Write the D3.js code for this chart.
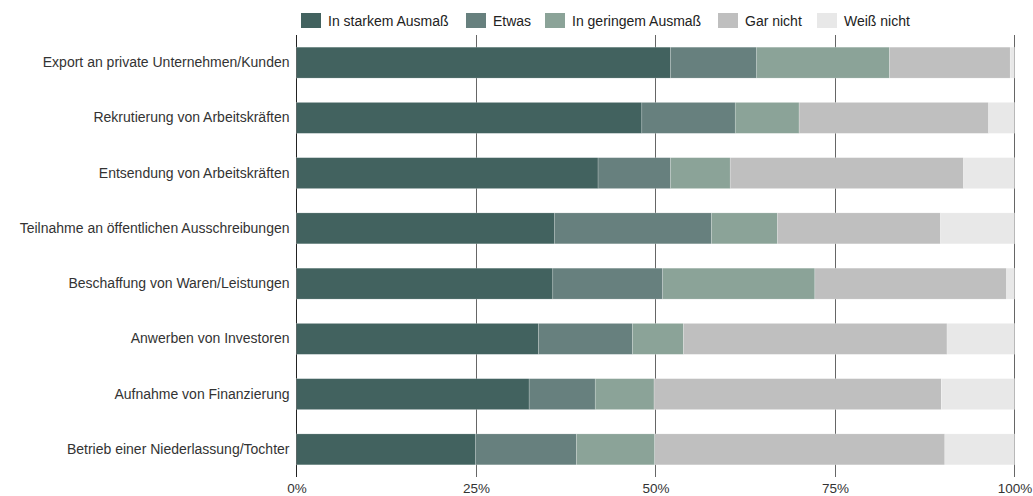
<!DOCTYPE html>
<html>
<head>
<meta charset="utf-8">
<script src="https://cdn.jsdelivr.net/npm/d3@7"></script>
<style>
  body { margin: 0; background: #fff; }
  text { font-family: "Liberation Sans", Arial, sans-serif; }
</style>
</head>
<body>
<div id="canvas"></div>
<script>
const categories = [
    "Export an private Unternehmen/Kunden",
    "Rekrutierung von Arbeitskräften",
    "Entsendung von Arbeitskräften",
    "Teilnahme an öffentlichen Ausschreibungen",
    "Beschaffung von Waren/Leistungen",
    "Anwerben von Investoren",
    "Aufnahme von Finanzierung",
    "Betrieb einer Niederlassung/Tochter"
];
const seriesNames = ["In starkem Ausmaß", "Etwas", "In geringem Ausmaß", "Gar nicht", "Weiß nicht"];
const starkem  = [52.1, 48.1, 42.0, 35.9, 35.7, 33.7, 32.4, 24.9];
const etwas    = [12.0, 13.0, 10.1, 21.9, 15.3, 13.1,  9.2, 14.1];
const geringem = [18.5,  8.9,  8.3,  9.2, 21.2,  7.1,  8.2, 10.9];
const garNicht = [16.8, 26.4, 32.5, 22.7, 26.7, 36.7, 40.0, 40.4];
const weissNicht = [0.6, 3.6,  7.1, 10.3,  1.1,  9.4, 10.2,  9.7];
const tickValues = [0, 25, 50, 75, 100];

const colors = ["#42625f", "#67807e", "#8ba398", "#bfbfbf", "#e8e8e8"];

const width = 1033;
const height = 496;
const margin = { top: 35, left: 296.5, bottom: 19, right: 18.5 };
const iwidth = width - margin.left - margin.right;
const iheight = height - margin.top - margin.bottom;

const svg = d3.select("#canvas").append("svg")
    .attr("width", width)
    .attr("height", height);

const g = svg.append("g").attr("transform", `translate(${margin.left},${margin.top})`);

const rows = categories.map((c, i) => ({
    name: c,
    v0: starkem[i], v1: etwas[i], v2: geringem[i], v3: garNicht[i], v4: weissNicht[i]
}));
const keys = ["v0", "v1", "v2", "v3", "v4"];
const stacked = d3.stack().keys(keys)(rows);

const x = d3.scaleLinear().domain([0, 100]).range([0, iwidth]);
const y = d3.scaleBand()
    .domain(categories)
    .range([0, iheight])
    .paddingInner(0.44)
    .paddingOuter(0.22);

// grid lines behind the bars
g.append("g")
    .selectAll("line")
    .data(tickValues)
    .enter().append("line")
    .attr("x1", d => x(d))
    .attr("x2", d => x(d))
    .attr("y1", 0)
    .attr("y2", iheight)
    .attr("stroke", d => d === 0 ? "#222" : "#666")
    .attr("stroke-width", 1)
    .attr("shape-rendering", "crispEdges");

const layers = g.selectAll("g.layer").data(stacked)
    .enter().append("g")
    .attr("class", "layer")
    .attr("fill", (d, i) => colors[i]);

layers.selectAll("rect")
    .data(d => d)
    .enter().append("rect")
    .attr("x", d => x(d[0]))
    .attr("y", d => y(d.data.name))
    .attr("width", d => x(d[1]) - x(d[0]))
    .attr("height", y.bandwidth())
    .attr("stroke", "#fff")
    .attr("stroke-opacity", 0.4)
    .attr("stroke-width", 0.5);

// x axis labels
g.append("g")
    .attr("transform", `translate(0, ${iheight})`)
    .call(d3.axisBottom(x).tickValues(tickValues).tickFormat(d => d + "%").tickSize(0).tickPadding(6))
    .call(a => a.select(".domain").remove())
    .selectAll("text")
    .attr("font-size", "13.5px")
    .attr("fill", "#333")
    .style("font-family", "'Liberation Sans', Arial, sans-serif");

// y axis labels
g.append("g")
    .call(d3.axisLeft(y).tickSize(0).tickPadding(7))
    .call(a => a.select(".domain").remove())
    .selectAll("text")
    .attr("font-size", "14px")
    .attr("fill", "#333")
    .style("font-family", "'Liberation Sans', Arial, sans-serif");

// legend
const legendX = [301, 466, 545, 718, 817];
const legend = svg.append("g").selectAll("g")
    .data(seriesNames)
    .enter().append("g")
    .attr("transform", (d, i) => `translate(${legendX[i]}, 13)`);

legend.append("rect")
    .attr("width", 20)
    .attr("height", 15)
    .attr("fill", (d, i) => colors[i]);

legend.append("text")
    .attr("x", 27)
    .attr("y", 8)
    .attr("dy", "0.35em")
    .attr("font-size", "14px")
    .attr("fill", "#222")
    .text(d => d);
</script>
</body>
</html>
